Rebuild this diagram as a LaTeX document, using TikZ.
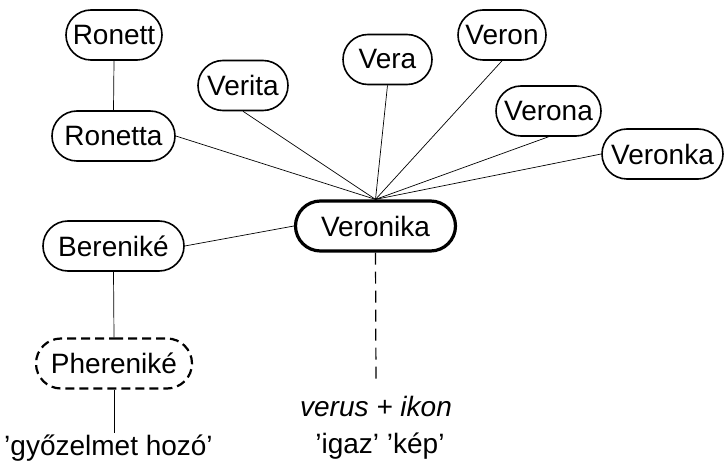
\documentclass[tikz,border=0pt]{standalone}
\usepackage{fontspec}
\setmainfont{Liberation Sans}
\usepackage{tikz}
\usetikzlibrary{positioning,shapes.misc}

\tikzset{
  nev/.style={draw, line width=1.6pt, rounded rectangle,
    minimum height=50pt, inner xsep=0pt, inner ysep=0pt},
  fonev/.style={nev, line width=3.2pt},
  elo/.style={nev, line width=2.2pt, dash pattern=on 9pt off 5pt},
  szo/.style={inner xsep=0pt, anchor=base},
  ag/.style={line width=0.7pt},
}

\begin{document}
\begin{tikzpicture}[x=1pt, y=-1pt, every node/.style={font=\fontsize{28}{33}\selectfont}]
  \useasboundingbox (0,0) rectangle (725,470);

  % Center name
  \node[fonev, minimum width=160pt] (veronika) at (375.5, 226) {Veronika};

  % Related names around it
  \node[nev, minimum width=96pt] (ronett) at (114, 35) {Ronett};
  \node[nev, minimum width=123pt] (ronetta) at (113.5, 136) {Ronetta};
  \node[nev, minimum width=90pt] (verita) at (243, 85.5) {Verita};
  \node[nev, minimum width=89pt] (vera) at (387.5, 59.5) {Vera};
  \node[nev, minimum width=88pt] (veron) at (502, 35) {Veron};
  \node[nev, minimum width=105pt] (verona) at (548.5, 111) {Verona};
  \node[nev, minimum width=121pt] (veronka) at (662.5, 154) {Veronka};
  \node[nev, minimum width=141pt] (berenike) at (113.5, 246) {Bereniké};
  \node[elo, minimum width=156pt] (pherenike) at (114, 363.5) {Phereniké};

  % Origins
  \node[szo, inner ysep=1pt] (gyoz) at (108.5, 455) {’győzelmet hozó’};
  \node[szo, inner ysep=11pt, font=\fontsize{28}{33}\selectfont\itshape] (verus) at (376, 416) {verus + ikon};
  \node[szo] (igaz) at (380, 453) {’igaz’ ’kép’};

  % Connections
  \draw[ag] (ronett.south) -- (ronetta.north);
  \draw[ag] (ronetta.east) -- (veronika.north);
  \draw[ag] (verita.south) -- (veronika.north);
  \draw[ag] (vera.south) -- (veronika.north);
  \draw[ag] (veron.south) -- (veronika.north);
  \draw[ag] (verona.south) -- (veronika.north);
  \draw[ag] (veronka.west) -- (veronika.north);
  \draw[ag] (berenike.east) -- (veronika.west);
  \draw[ag] (berenike.south) -- (pherenike.north);
  \draw[ag] (pherenike.south) -- (pherenike.south |- gyoz.north);
  \draw[line width=1.2pt, dash pattern=on 12pt off 7pt] (veronika.south) -- (verus.north);
\end{tikzpicture}
\end{document}
